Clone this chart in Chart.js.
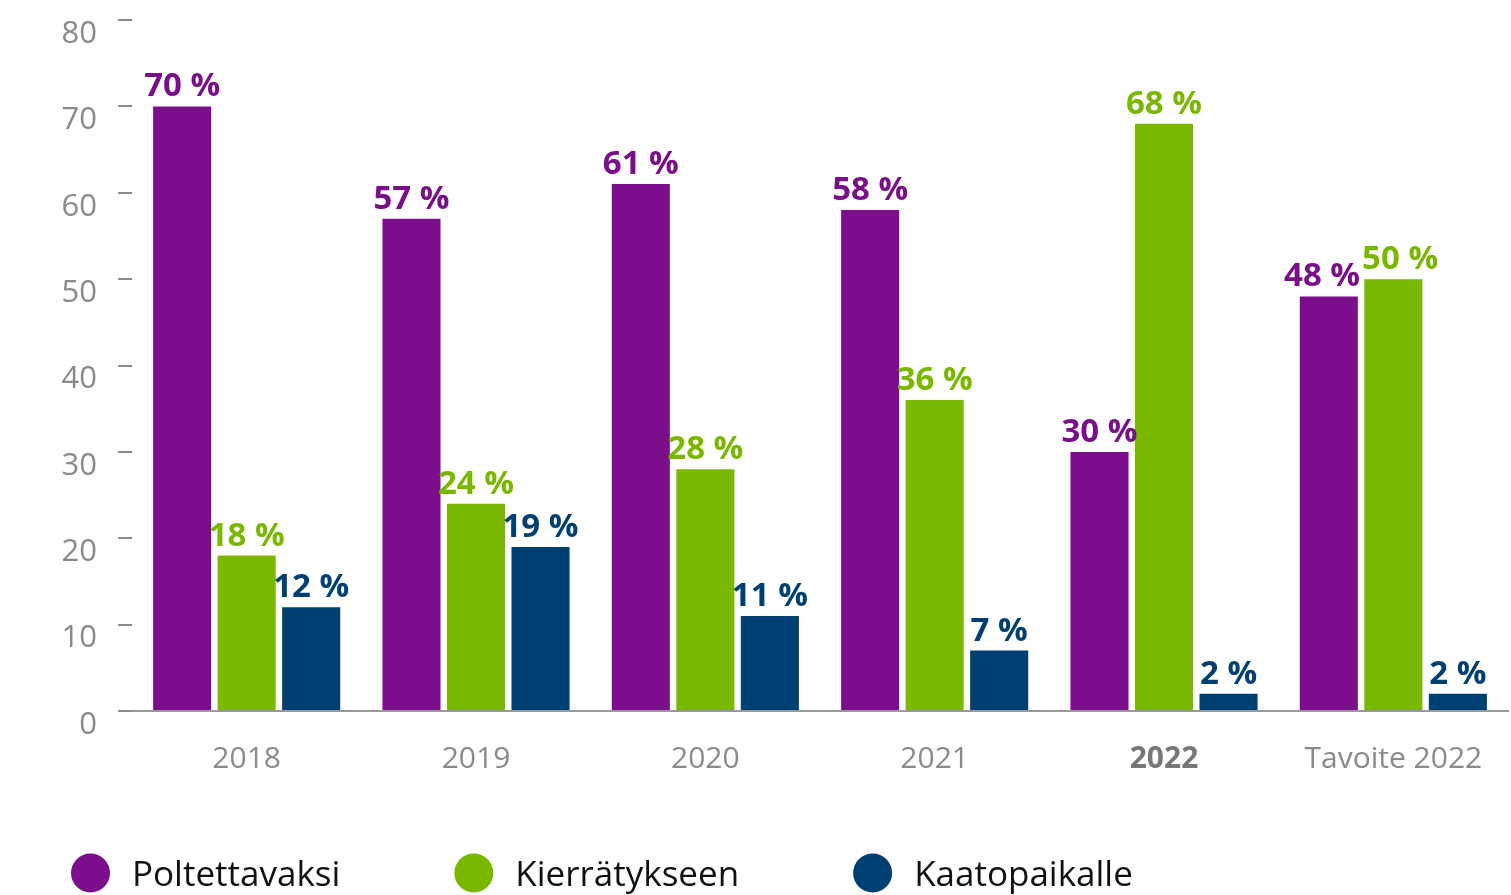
<!DOCTYPE html>
<html><head><meta charset="utf-8">
<script src="https://cdn.jsdelivr.net/npm/chart.js@4.4.1/dist/chart.umd.min.js"></script>
<style>html,body{margin:0;padding:0;background:#fff;overflow:hidden}#wrap{width:1511px;height:895px;position:relative}</style>
</head><body><div id="wrap"><canvas id="c" width="1511" height="895"></canvas></div>
<script>
const categories = ['2018', '2019', '2020', '2021', '2022', 'Tavoite 2022'];
const seriesNames = ['Poltettavaksi', 'Kierrätykseen', 'Kaatopaikalle'];
const poltettavaksi = [70, 57, 61, 58, 30, 48];
const kierratykseen = [18, 24, 28, 36, 68, 50];
const kaatopaikalle = [12, 19, 11, 7, 2, 2];
const yTickValues = [0, 10, 20, 30, 40, 50, 60, 70, 80];
const highlightCategory = '2022';

const seriesColors = ['#7b0f8b', '#7ab800', '#003f72'];
const FONT = '"Open Sans", "DejaVu Sans", sans-serif';

const valueLabelPlugin = {
  id: 'valueLabels',
  afterDatasetsDraw(chart) {
    const ctx = chart.ctx;
    ctx.save();
    ctx.font = '700 33px ' + FONT;
    ctx.textAlign = 'left';
    ctx.textBaseline = 'alphabetic';
    const nCat = chart.data.labels.length;
    for (let i = 0; i < nCat; i++) {
      const items = [];
      chart.data.datasets.forEach((ds, di) => {
        const meta = chart.getDatasetMeta(di);
        const el = meta.data[i];
        const text = ds.data[i] + ' %';
        const w = ctx.measureText(text).width;
        items.push({ text, w, x: el.x - w / 2, y: el.y - 10, color: ds.backgroundColor });
      });
      // push apart overlapping neighbours
      for (let k = 1; k < items.length; k++) {
        const a = items[k - 1], b = items[k];
        const vOverlap = Math.abs(a.y - b.y) < 26;
        const overlap = a.x + a.w + 2 - b.x;
        if (vOverlap && overlap > 0) {
          a.x -= overlap / 2;
          b.x += overlap / 2;
        }
      }
      items.forEach(it => {
        ctx.fillStyle = it.color;
        ctx.fillText(it.text, it.x, it.y);
      });
    }
    ctx.restore();
  }
};

const legendPlugin = {
  id: 'customLegend',
  afterDraw(chart) {
    const ctx = chart.ctx;
    ctx.save();
    ctx.font = '400 35px ' + FONT;
    ctx.textBaseline = 'middle';
    ctx.textAlign = 'left';
    let x = 71;
    const y = 873;
    chart.data.datasets.forEach(ds => {
      ctx.fillStyle = ds.backgroundColor;
      ctx.beginPath();
      ctx.arc(x + 19.5, y, 19.5, 0, Math.PI * 2);
      ctx.fill();
      ctx.fillStyle = '#111111';
      ctx.fillText(ds.label, x + 61, y + 3);
      x += 61 + ctx.measureText(ds.label).width + 114;
    });
    ctx.restore();
  }
};

const seriesValues = [poltettavaksi, kierratykseen, kaatopaikalle];

new Chart(document.getElementById('c'), {
  type: 'bar',
  data: {
    labels: categories,
    datasets: seriesNames.map((name, i) => ({
      label: name,
      data: seriesValues[i],
      backgroundColor: seriesColors[i],
      borderWidth: 0,
      categoryPercentage: 0.844,
      barPercentage: 0.9
    }))
  },
  options: {
    responsive: false,
    animation: false,
    layout: { padding: { top: 20, right: 3, bottom: 120, left: 0 } },
    plugins: { legend: { display: false }, tooltip: { enabled: false } },
    scales: {
      x: {
        grid: { display: false, drawTicks: false },
        border: { display: true, color: '#999999', width: 2 },
        ticks: {
          padding: 30,
          color: ctx => (categories[ctx.index] === highlightCategory ? '#777777' : '#8a8a8a'),
          font: ctx => ({ family: FONT, size: 30, weight: categories[ctx.index] === highlightCategory ? '700' : '400' })
        },
        afterFit: s => { s.height = 64; s.paddingLeft = 0; s.paddingRight = 0; }
      },
      y: {
        min: 0, max: 80,
        afterBuildTicks: s => { s.ticks = yTickValues.map(v => ({ value: v })); },
        grid: { display: true, drawOnChartArea: false, drawTicks: true, tickLength: 14, color: '#8a8a8a', lineWidth: 2 },
        border: { display: false },
        ticks: { padding: 21, labelOffset: 14, color: '#8a8a8a', font: { family: FONT, size: 31, weight: '400' } },
        afterFit: s => { s.width = 132; s.paddingTop = 0; s.paddingBottom = 0; }
      }
    }
  },
  plugins: [valueLabelPlugin, legendPlugin]
});
</script>
</body></html>
